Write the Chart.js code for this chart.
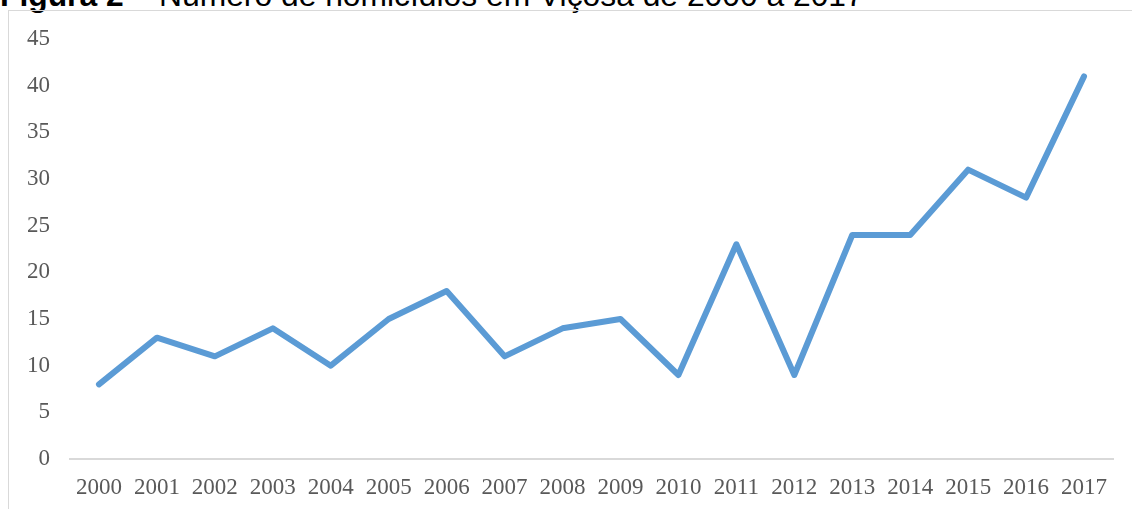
<!DOCTYPE html>
<html>
<head>
<meta charset="utf-8">
<script src="https://cdn.jsdelivr.net/npm/chart.js@4"></script>
<style>
  html, body { margin:0; padding:0; background:#fff; }
  #wrap { position:relative; width:1132px; height:509px; overflow:hidden; }
  #frame { position:absolute; left:8px; top:10px; width:1200px; height:600px; border:1px solid #d9d9d9; box-sizing:border-box; }
  #title { position:absolute; left:0px; top:-21px; font-family:"Liberation Sans", Arial, sans-serif; font-size:31.8px; color:#000; white-space:nowrap; line-height:32px; }
  #title b { font-weight:bold; }
  #c { position:absolute; left:0; top:0; }
</style>
</head>
<body>
<div id="wrap">
  <div id="title"><b>Figura 2</b> – Número de homicídios em Viçosa de 2000 a 2017</div>
  <div id="frame"></div>
  <canvas id="c" width="1132" height="509"></canvas>
</div>
<script>
const years = ["2000","2001","2002","2003","2004","2005","2006","2007","2008","2009","2010","2011","2012","2013","2014","2015","2016","2017"];
const homicides = [8,13,11,14,10,15,18,11,14,15,9,23,9,24,24,31,28,41];
const yTicks = [0,5,10,15,20,25,30,35,40,45];

new Chart(document.getElementById('c'), {
  type: 'line',
  data: {
    labels: years,
    datasets: [{
      data: homicides,
      borderColor: '#5b9bd5',
      borderWidth: 6,
      pointRadius: 0,
      tension: 0,
      fill: false,
      borderCapStyle: 'round',
      borderJoinStyle: 'round'
    }]
  },
  options: {
    responsive: false,
    animation: false,
    devicePixelRatio: 1,
    layout: { padding: { left: 0, right: 19, top: 39, bottom: 0 } },
    plugins: { legend: { display: false }, tooltip: { enabled: false }, title: { display: false } },
    scales: {
      x: {
        offset: true,
        grid: { display: false, drawTicks: false },
        border: { display: true, color: '#d9d9d9', width: 2 },
        ticks: { color: '#595959', font: { family: '"Liberation Serif", "Times New Roman", serif', size: 23 }, padding: 15, maxRotation: 0, autoSkip: false },
        afterFit: (s) => { s.height = 50; }
      },
      y: {
        min: 0, max: 45,
        afterBuildTicks: (s) => { s.ticks = yTicks.map(v => ({ value: v })); },
        grid: { display: false, drawTicks: false },
        border: { display: false },
        ticks: { color: '#595959', font: { family: '"Liberation Serif", "Times New Roman", serif', size: 23 }, padding: 20 },
        afterFit: (s) => { s.width = 70; }
      }
    }
  }
});
</script>
</body>
</html>
